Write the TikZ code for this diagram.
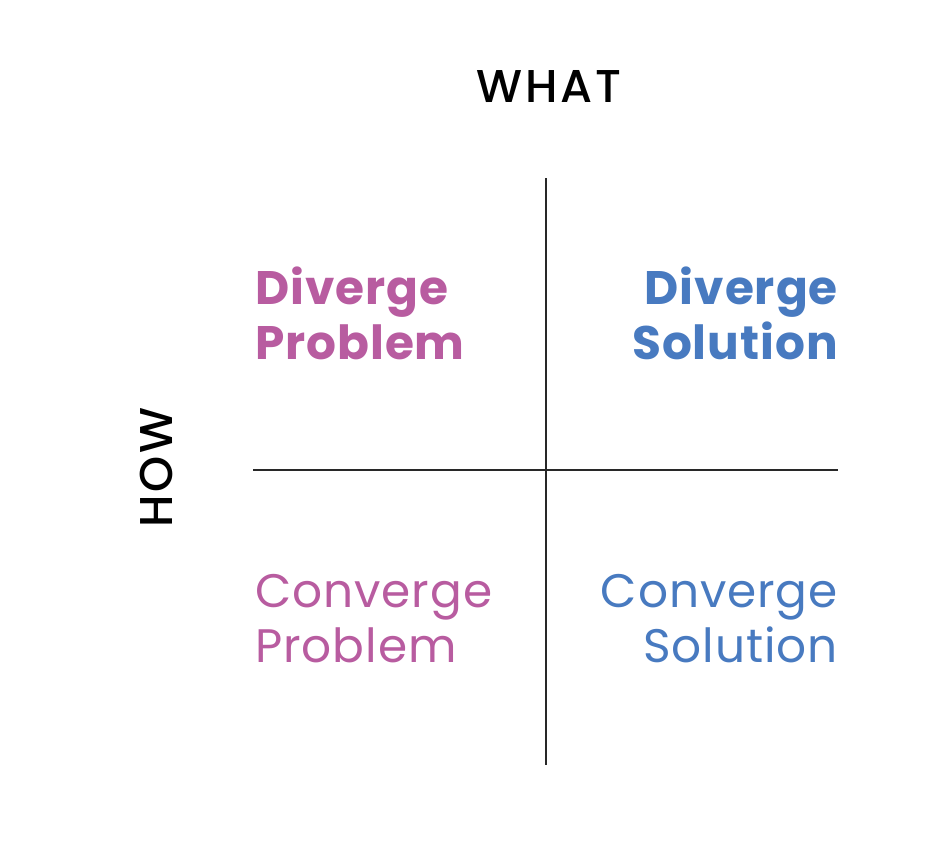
\documentclass[tikz,border=0pt]{standalone}
\usepackage{fontspec}
\setmainfont{Poppins}
\newfontfamily\axisfont{Poppins Medium}[LetterSpace=6]
\newfontfamily\quadfont{Poppins}[LetterSpace=2]
\usepackage{tikz}

\begin{document}
\begin{tikzpicture}[x=1pt,y=-1pt]
  % Colors
  \definecolor{probcolor}{RGB}{184,92,160}
  \definecolor{solcolor}{RGB}{72,122,192}
  \definecolor{axiscolor}{RGB}{40,40,40}

  % Styles
  \tikzstyle{axis line}=[draw=axiscolor,line width=1.8pt]
  \tikzstyle{axis text}=[inner sep=0pt,font=\fontsize{46}{50}\axisfont,text=black]
  \tikzstyle{strong text}=[inner sep=0pt,align=left,font=\fontsize{47}{55}\quadfont\bfseries]
  \tikzstyle{light text}=[inner sep=0pt,align=left,font=\fontsize{47}{55}\quadfont]

  \useasboundingbox (0,0) rectangle (952,860);

  % Axes
  \coordinate (top) at (546,178);
  \coordinate (bottom) at (546,765);
  \coordinate (left) at (253,470);
  \coordinate (right) at (838,470);
  \draw[axis line] (top) -- (bottom);
  \draw[axis line] (left) -- (right);

  \node[axis text,anchor=base] (what) at (549,102) {WHAT};
  \node[axis text,anchor=base,rotate=90] (how) at (172,468) {HOW};

  % Quadrants
  \node[strong text,text=probcolor,anchor=north west] (divprob) at (255,267) {Diverge\\Problem};
  \node[strong text,text=solcolor,anchor=north east,align=right] (divsol) at (838,267) {Diverge\\Solution};
  \node[light text,text=probcolor,anchor=north west] (conprob) at (255,574) {Converge\\Problem};
  \node[light text,text=solcolor,anchor=north east,align=right] (consol) at (838,574) {Converge\\Solution};
\end{tikzpicture}
\end{document}
